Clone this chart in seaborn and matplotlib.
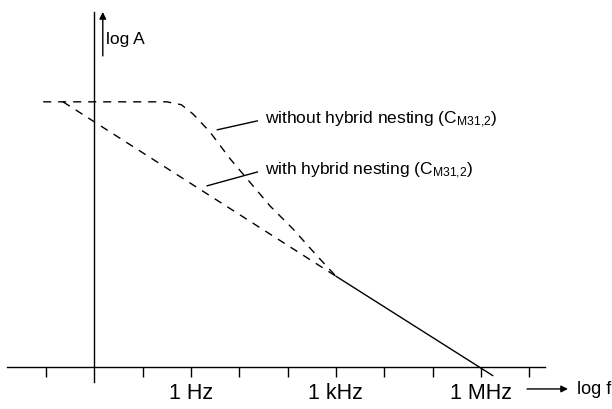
import numpy as np
import pandas as pd
import seaborn as sns
import matplotlib.pyplot as plt

# x: decades relative to 1 Hz (log f), y: log A in decades (schematic)
without_x = [-3.06, -0.5, -0.2, 0.04, 0.39, 0.81, 1.64, 2.11, 2.61, 3.0]
without_y = [5.49, 5.49, 5.43, 5.24, 4.87, 4.31, 3.33, 2.86, 2.30, 1.88]
with_x = [-2.65, 3.0]
with_y = [5.49, 1.88]
common_x = [3.0, 6.25]
common_y = [1.88, -0.18]

tick_pos = [-3, -1, 0, 1, 2, 3, 4, 5, 6, 7]
tick_labels = ['', '', '1 Hz', '', '', '1 kHz', '', '', '1 MHz', '']

label_without = r'without hybrid nesting ($\mathregular{C_{M31{,}2}}$)'
label_with = r'with hybrid nesting ($\mathregular{C_{M31{,}2}}$)'

sns.set_theme(style='white')
plt.rcParams['font.family'] = ['Liberation Sans', 'DejaVu Sans']
plt.rcParams['text.color'] = 'black'
plt.rcParams['xtick.color'] = 'black'
plt.rcParams['xtick.labelcolor'] = 'black'

fig = plt.figure(figsize=(6.12, 4.10), dpi=100)
ax = fig.add_axes([0, 0, 1, 1])
ax.set_facecolor('white')

dash = (5.8, 5.0)
sns.lineplot(x=without_x, y=without_y, ax=ax, color='black', lw=1)
ax.lines[-1].set_dashes(dash)
sns.lineplot(x=with_x, y=with_y, ax=ax, color='black', lw=1)
ax.lines[-1].set_dashes(dash)
sns.lineplot(x=common_x, y=common_y, ax=ax, color='black', lw=1)

ax.set_xlim(-3.954, 8.716)
ax.set_ylim(-0.87, 7.619)

# axes drawn as crossing spines
for side in ['top', 'right']:
    ax.spines[side].set_visible(False)
ax.spines['bottom'].set_position(('data', 0))
ax.spines['bottom'].set_bounds(-3.81, 7.33)
ax.spines['left'].set_position(('data', -2))
ax.spines['left'].set_bounds(-0.31, 7.35)
for side in ['bottom', 'left']:
    ax.spines[side].set_color('black')
    ax.spines[side].set_linewidth(1)

ax.set_xticks(tick_pos, tick_labels)
ax.set_yticks([])
ax.tick_params(axis='x', direction='out', length=7.2, width=1, color='black',
               labelsize=15.5, labelcolor='black', pad=3.5, bottom=True)
ax.set_xlabel('')
ax.set_ylabel('')

# axis arrows and names
ax.annotate('', xy=(-1.826, 7.35), xytext=(-1.826, 6.44),
            arrowprops=dict(arrowstyle='-|>', color='black', lw=1,
                            mutation_scale=10, shrinkA=0, shrinkB=0))
ax.text(-1.76, 6.81, 'log A', fontsize=12.5, ha='left', va='center', color='black')
ax.annotate('', xy=(7.805, -0.455), xytext=(6.957, -0.455),
            arrowprops=dict(arrowstyle='-|>', color='black', lw=1,
                            mutation_scale=10, shrinkA=0, shrinkB=0))
ax.text(7.99, -0.455, 'log f', fontsize=13, ha='left', va='center', color='black')

# curve labels with leader lines
ax.annotate(label_without, xy=(0.54, 4.91), xytext=(1.53, 5.13),
            fontsize=12.5, ha='left', va='center', color='black',
            arrowprops=dict(arrowstyle='-', color='black', lw=1,
                            shrinkA=3, shrinkB=0, relpos=(0, 0.5)))
ax.annotate(label_with, xy=(0.33, 3.75), xytext=(1.53, 4.08),
            fontsize=12.5, ha='left', va='center', color='black',
            arrowprops=dict(arrowstyle='-', color='black', lw=1,
                            shrinkA=3, shrinkB=0, relpos=(0, 0.5)))

fig.savefig('out.png', dpi=100)
